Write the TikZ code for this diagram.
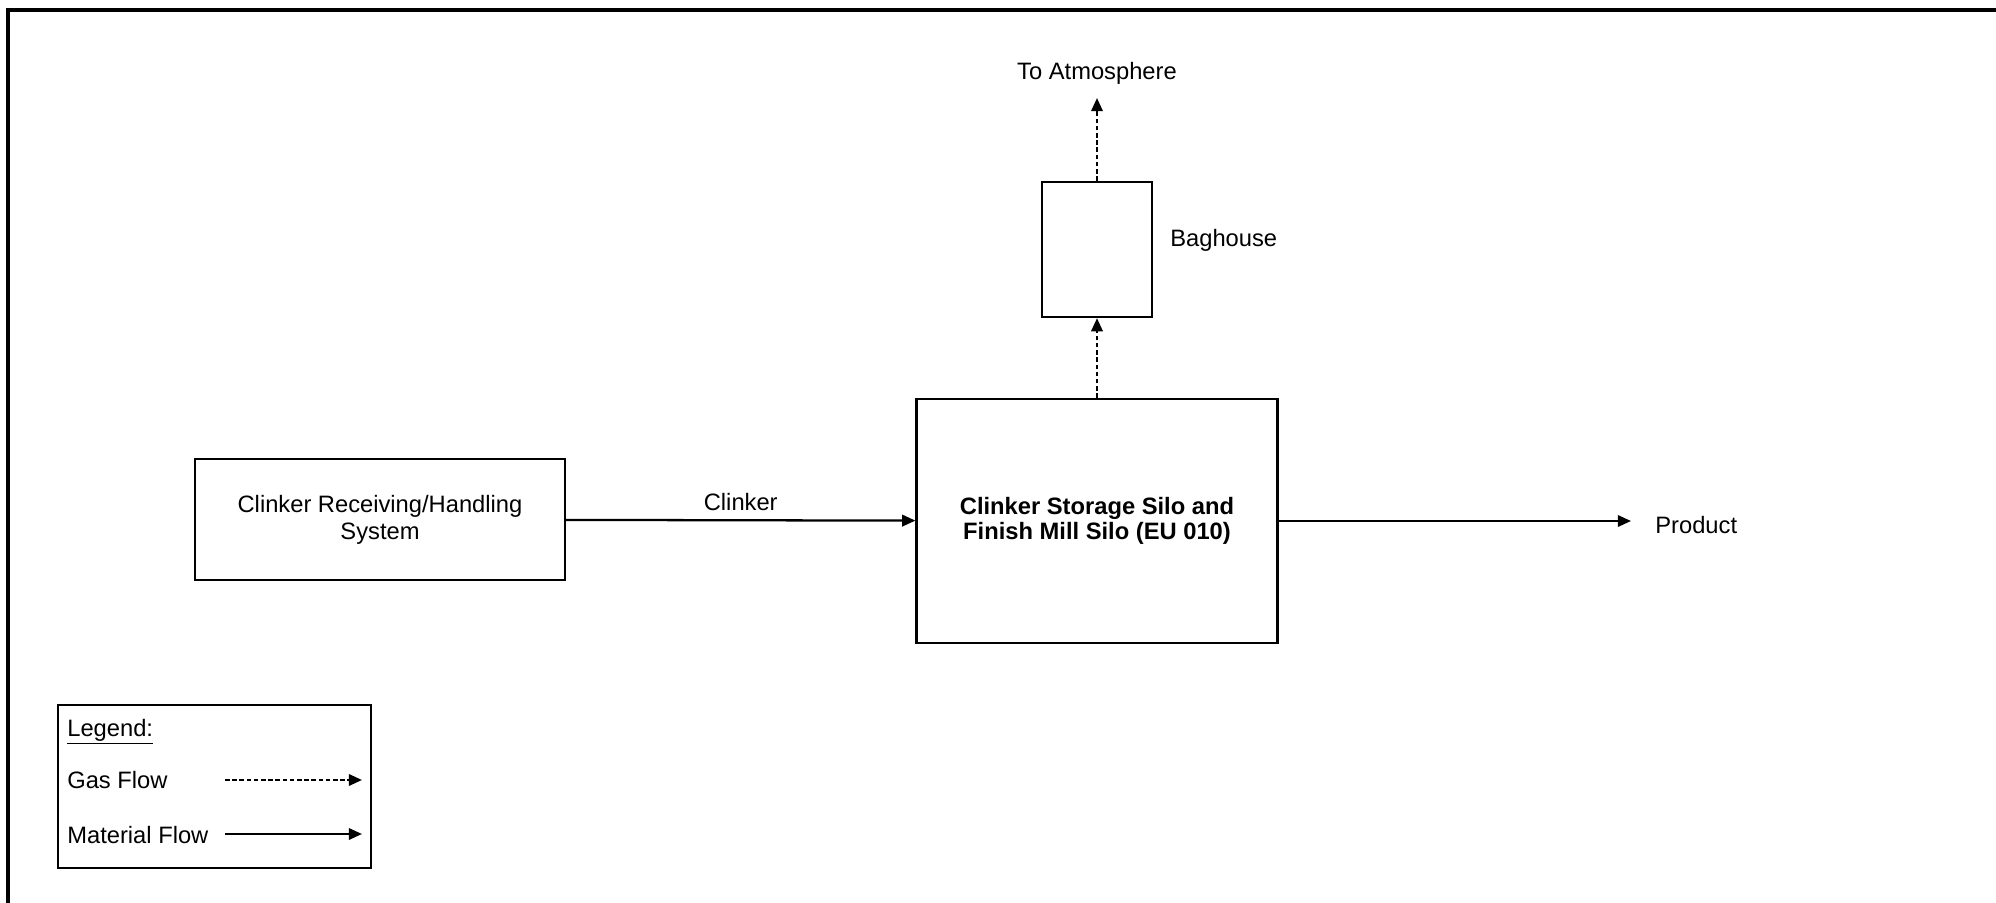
\documentclass[tikz,border=0pt]{standalone}
\usepackage{fontspec}
\setmainfont{Liberation Sans}
\usetikzlibrary{arrows.meta,positioning}

\begin{document}
\begin{tikzpicture}[x=0.02cm,y=-0.02cm,>={Triangle[length=7.5pt,width=6.5pt]},
  font=\fontsize{13.5}{15.4}\selectfont,
  box/.style={draw,line width=1.3pt,align=center,inner sep=0pt},
  label/.style={inner sep=0pt},
  gas/.style={->,line width=1.3pt,dash pattern=on 2.6pt off 1.5pt},
  material/.style={->,line width=1.3pt}]
  \useasboundingbox (0,0) rectangle (1996,903);

  % 外框, 只有上边和左边
  \draw[line width=2.4pt] (8,903) -- (8,10) -- (1996,10);

  % 三个方框
  \node[box,minimum width=7.4cm,minimum height=2.42cm] (recv) at (380,519.5)
    {Clinker Receiving/Handling\\System};
  \node[box,minimum width=7.22cm,minimum height=4.88cm,font=\fontsize{13.5}{14.4}\selectfont\bfseries]
    (silo) at (1097,521) {Clinker Storage Silo and\\Finish Mill Silo (EU 010)};
  \node[box,minimum width=2.2cm,minimum height=2.7cm] (bag) at (1097,249.5) {};

  % 标注
  \node[label,anchor=west] (baglabel) at (1170,240) {Baghouse};
  \node[label] (atm) at (1097,73) {To Atmosphere};
  \node[label,anchor=west] (product) at (1655,525) {Product};
  \coordinate (atmtip) at (1097,98);
  \coordinate (prodtip) at (1631,521);

  % 物料流与气流
  \draw[material] (recv) -- node[label,above=0.17cm] (clinker) {Clinker} (silo);
  \draw[material] (silo) -- (prodtip);
  \draw[gas] (silo) -- (bag);
  \draw[gas] (bag) -- (atmtip);

  % 图例
  \node[box,minimum width=6.26cm,minimum height=3.26cm] (legend) at (214.5,786.5) {};
  \node[label,anchor=west] (legtitle) at (67,732) {\underline{Legend:}};
  \node[label,anchor=west] (gastext) at (67,780) {Gas Flow};
  \node[label,anchor=west] (mattext) at (67,835) {Material Flow};
  \coordinate (gasA) at (225,780);
  \coordinate (gasB) at (362,780);
  \coordinate (matA) at (225,834);
  \coordinate (matB) at (362,834);
  \draw[gas] (gasA) -- (gasB);
  \draw[material] (matA) -- (matB);
\end{tikzpicture}
\end{document}
